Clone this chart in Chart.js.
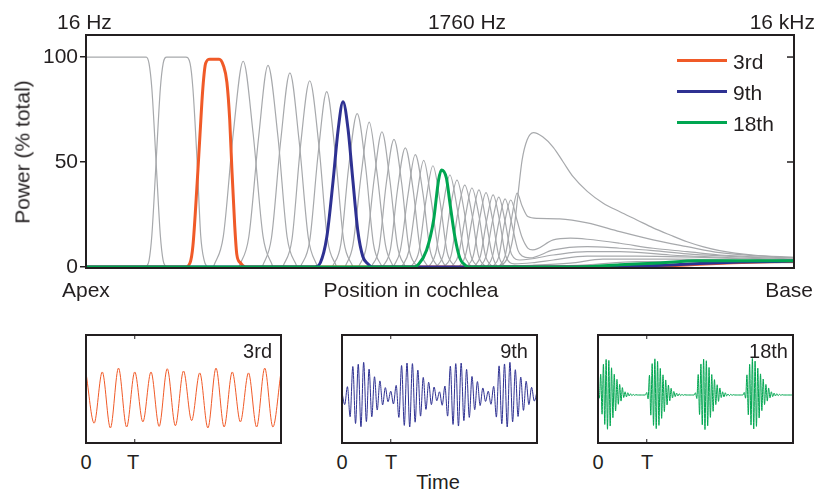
<!DOCTYPE html>
<html>
<head>
<meta charset="utf-8">
<script src="https://cdn.jsdelivr.net/npm/chart.js@4.4.1/dist/chart.umd.min.js"></script>
<style>
  body { margin: 0; background: #fff; width: 816px; height: 497px; position: relative; overflow: hidden;
         font-family: "Liberation Sans", Arial, sans-serif; color: #231f20; }
  canvas, .lbl, .key { position: absolute; }
  .lbl { white-space: nowrap; line-height: 1; }
</style>
</head>
<body>
<canvas id="main" width="816" height="300" style="left:0;top:0"></canvas>
<canvas id="wave3" width="207" height="120" style="left:80px;top:329px"></canvas>
<canvas id="wave9" width="207" height="120" style="left:336px;top:329px"></canvas>
<canvas id="wave18" width="207" height="120" style="left:592px;top:329px"></canvas>
<script>
// position along the cochlea (0 = apex, 100 = base) vs power (% total)
const powerTicks = [0, 50, 100];
const ORANGE = '#f05a28', BLUE = '#2e3192', GREEN = '#00a651', GRAY = '#a7a9ac';

const harmonic3 = [[0,0],[14.0,0],[14.7,2],[15.1,10],[15.7,40],[16.1,63],[16.5,85],[16.9,97],[17.5,99],[18.8,99],
  [19.4,96],[19.9,88],[20.3,70],[20.6,47],[21.0,20],[21.3,6],[21.8,2],[22.5,0],[78.2,0],[79.7,0.3],[82.1,0.5],
  [86.7,1.3],[91.4,2],[95.2,2.4],[100,2.6]];
const harmonic9 = [[0,0],[32.3,0],[33.1,2],[34.0,14],[34.9,41],[35.6,65],[36.3,78.7],[37.0,66],[37.7,41],[38.4,17],
  [39.1,5],[39.8,1.5],[40.4,0],[75.4,0],[79.2,0.5],[82.5,0.9],[86.7,1.6],[92.4,2.3],[100,2.8]];
const harmonic18 = [[0,0],[46.4,0],[46.9,1],[48.1,8],[49.1,22.4],[49.8,41.4],[50.2,46.2],[50.9,42.4],[51.4,30.5],
  [52.1,14.4],[52.8,4.3],[53.5,1],[54.0,0],[69.1,0],[71.6,0.2],[75.4,1.0],[81.1,1.9],[86.3,2.9],[100,3.0]];

// the other harmonics, resolved ones first
const grayResolved = [
  [[0,100],[8.5,100],[8.9,97],[9.3,85],[9.9,50],[10.5,15],[10.9,3],[11.3,0]],
  [[8.5,0],[8.9,3],[9.3,15],[9.9,50],[10.5,85],[10.9,97],[11.4,100],[14.1,100],[14.7,97],[15.1,85],[15.7,50],[16.2,15],[16.7,3],[17.1,0]],
  [[18.0,0],[19.4,14.7],[20.8,63.7],[22.2,98],[23.6,63.7],[25.0,14.7],[26.4,0]],
  [[21.6,0],[23.0,14.4],[24.4,62.4],[25.7,96],[27.1,62.4],[28.4,14.4],[29.8,0]],
  [[24.9,0],[26.2,13.9],[27.5,60.1],[28.8,92.5],[30.1,60.1],[31.4,13.9],[32.7,0]],
  [[27.8,0],[29.1,13.3],[30.3,57.7],[31.6,88.7],[32.9,57.7],[34.1,13.3],[35.4,0]],
  [[30.3,0],[31.6,12.5],[32.8,54.3],[34.0,83.5],[35.2,54.3],[36.4,12.5],[37.7,0]],
  [[34.8,0],[36.0,11.0],[37.1,47.5],[38.3,73],[39.5,47.5],[40.6,11.0],[41.8,0]],
  [[36.6,0],[37.7,10.4],[38.9,44.9],[40.0,69],[41.1,44.9],[42.3,10.4],[43.4,0]],
  [[38.5,0],[39.6,9.7],[40.7,41.9],[41.8,64.4],[42.9,41.9],[44.0,9.7],[45.1,0]],
  [[40.3,0],[41.4,9.1],[42.4,39.5],[43.5,60.8],[44.6,39.5],[45.6,9.1],[46.7,0]],
  [[41.9,0],[43.0,8.5],[44.0,36.9],[45.1,56.7],[46.2,36.9],[47.2,8.5],[48.3,0]],
  [[43.4,0],[44.4,8.0],[45.5,34.8],[46.5,53.5],[47.6,34.8],[48.6,8.0],[49.7,0]],
  [[44.6,0],[45.6,7.6],[46.7,33.0],[47.7,50.8],[48.7,33.0],[49.8,7.6],[50.8,0]],
  [[45.9,0],[47.0,7.2],[48.0,31.3],[49.0,48.2],[50.0,31.3],[51.0,7.2],[52.1,0]],
  [[48.4,0],[49.4,6.6],[50.4,28.5],[51.4,43.8],[52.4,28.5],[53.4,6.6],[54.4,0]],
  [[49.5,0],[50.5,6.2],[51.4,26.9],[52.4,41.4],[53.4,26.9],[54.3,6.2],[55.3,0]],
  [[50.6,0],[51.6,5.9],[52.5,25.4],[53.5,39],[54.5,25.4],[55.4,5.9],[56.4,0]],
  [[51.6,0],[52.6,5.6],[53.6,24.4],[54.5,37.6],[55.5,24.4],[56.4,5.6],[57.4,0]]
];

// higher harmonics with long tails toward the base
const grayTails = [
  [[52.7,0],[53.6,5.5],[54.6,23.9],[55.5,36.7],[56.4,23.9],[57.4,5.5],[58.3,0],[65,0.3],[70.8,1],[77.8,2.5],[89.5,2.5],[100,2]],
  [[53.7,0],[54.7,5.3],[55.6,23.0],[56.5,35.4],[57.4,23.0],[58.3,5.3],[59.3,0.5],[63,0.8],[68.4,1.8],[73.0,3.7],[82.5,3.7],[100,2.5]],
  [[54.8,0],[55.7,5.1],[56.6,22.3],[57.5,34.3],[58.4,22.3],[59.3,5.1],[60.5,1.5],[63,2],[66.0,3.3],[70.8,5.2],[77.8,5.2],[100,3.0]],
  [[55.6,0],[56.5,5.0],[57.4,21.6],[58.3,33.3],[59.2,21.6],[60.1,6],[61.3,3.3],[66.0,5.7],[70.8,7.3],[75.4,7.3],[82.5,5.7],[100,3.3]],
  [[56.6,0],[57.4,4.9],[58.3,21.1],[59.2,32.4],[60.1,21.1],[61.0,8],[61.6,5.2],[62.7,4.3],[66.0,8.1],[70.8,9.7],[75.4,8.9],[80.1,7.8],[84.9,6.2],[100,3.7]],
  [[57.4,0],[58.3,4.8],[59.1,20.7],[60.0,31.9],[60.9,22],[61.6,14],[62.4,9],[63.1,8.1],[66.0,12.9],[68.4,13.7],[70.8,13.2],[75.4,11.3],[80.1,8.9],[84.9,7.3],[89.5,5.7],[100,4.3]],
  [[58.3,0],[59.2,5.3],[60.1,22.9],[60.9,35.2],[61.6,29],[62.4,24],[63.8,23.1],[66.9,22.9],[70.8,21],[75.4,16.8],[80.1,12.9],[84.9,9.7],[89.5,6.8],[100,4.3]],
  [[58.2,0],[59.5,4],[60.3,14],[61.0,34],[61.6,51],[62.3,60.5],[63.2,64],[64.5,62],[66.0,57],[67.4,50],[68.8,43],[70.8,36],
   [73.0,30.5],[75.4,26.3],[77.8,22.4],[80.1,18.6],[82.5,15.2],[84.9,12],[87.1,9.7],[89.5,7.8],[94.2,5.7],[100,4.6]]
];

// filtered waveforms, one sample per half cycle over 4 periods (0..4T)
const wave3 = [0.69,-0.88,0.72,-1.03,0.84,-1.0,0.72,-0.84,0.72,-0.98,0.82,-0.96,0.75,-0.8,0.69,-1.03,0.84,-1.0,
  0.72,-0.84,0.69,-1.0,0.84,-1.0,0.72];
const wave9 = [
  0.08,-0.30,0.26,-0.68,0.89,-0.89,0.96,-0.99,1.02,-0.83,0.81,-0.68,0.57,-0.47,0.44,-0.31,0.23,-0.21,
  0.12,-0.28,0.30,-0.70,0.92,-0.95,1.00,-1.00,0.98,-0.85,0.78,-0.66,0.55,-0.45,0.40,-0.30,0.25,-0.18,
  0.10,-0.32,0.28,-0.66,0.90,-0.92,0.98,-0.97,1.00,-0.80,0.80,-0.70,0.58,-0.46,0.42,-0.33,0.22,-0.20,
  0.12,-0.29,0.27,-0.69,0.91,-0.90,0.97,-1.00,1.02,-0.84,0.79,-0.67,0.56,-0.48,0.43,-0.30,0.24,-0.19,
  0.10];
const wave18 = [
  0.05,-0.10,0.65,-0.60,0.96,-0.92,1.11,-1.07,1.08,-0.97,0.85,-0.71,0.65,-0.50,0.49,-0.29,0.33,-0.19,
  0.23,-0.08,0.10,-0.06,0.07,-0.03,0.04,-0.02,0.02,-0.01,0.01,0,0,0,0,0,0,0,
  0.08,-0.12,0.62,-0.63,0.98,-0.95,1.13,-1.05,1.05,-0.95,0.83,-0.73,0.63,-0.52,0.47,-0.31,0.31,-0.18,
  0.21,-0.09,0.11,-0.05,0.06,-0.03,0.04,-0.02,0.02,-0.01,0.01,0,0,0,0,0,0,0,
  0.07,-0.11,0.64,-0.61,0.97,-0.93,1.12,-1.08,1.07,-0.96,0.86,-0.70,0.64,-0.51,0.48,-0.30,0.32,-0.20,
  0.22,-0.08,0.10,-0.06,0.07,-0.03,0.03,-0.02,0.02,-0.01,0.01,0,0,0,0,0,0,0,
  0.08,-0.10,0.63,-0.62,0.96,-0.94,1.14,-1.06,1.06,-0.98,0.84,-0.72,0.66,-0.49,0.50,-0.30,0.33,-0.19,
  0.22,-0.09,0.10,-0.05,0.06,-0.03,0.04,-0.02,0.02,-0.01,0.01,0,0,0,0,0,0,0,
  0];

const FONT = '"Liberation Sans", Arial, sans-serif';
const INK = '#231f20';

function label(text, x, y, align, size, rotate) {
  const d = document.createElement('div');
  d.className = 'lbl';
  d.textContent = text;
  d.style.left = x + 'px';
  d.style.top = y + 'px';
  d.style.fontSize = (size || 21) + 'px';
  const tx = align === 'left' ? '0' : align === 'right' ? '-100%' : '-50%';
  d.style.transform = 'translate(' + tx + ',-50%)' + (rotate ? ' rotate(' + rotate + 'deg)' : '');
  document.body.appendChild(d);
}

function curve(arr, color, width) {
  return {
    data: arr.map(([x, y]) => ({ x, y })),
    borderColor: color,
    borderWidth: width,
    pointRadius: 0,
    fill: false,
    cubicInterpolationMode: 'monotone'
  };
}

// black box round the plot, with inward ticks on the right side
const mainFrame = {
  id: 'mainFrame',
  afterDatasetsDraw(chart) {
    const { ctx, chartArea: a, scales: { y } } = chart;
    ctx.save();
    ctx.strokeStyle = INK;
    ctx.lineWidth = 2;
    ctx.strokeRect(a.left, a.top, a.right - a.left, a.bottom - a.top);
    ctx.lineWidth = 1.5;
    powerTicks.filter(v => v > 0).forEach(v => {
      const py = y.getPixelForValue(v);
      ctx.beginPath();
      ctx.moveTo(a.right - 7, py);
      ctx.lineTo(a.right, py);
      ctx.stroke();
    });
    ctx.restore();
  }
};

new Chart(document.getElementById('main'), {
  type: 'line',
  data: {
    datasets: [
      curve(harmonic18, GREEN, 3),
      curve(harmonic9, BLUE, 3),
      curve(harmonic3, ORANGE, 3),
      ...grayResolved.map(c => curve(c, GRAY, 1.2)),
      ...grayTails.map(c => curve(c, GRAY, 1.2))
    ]
  },
  options: {
    responsive: false,
    animation: false,
    devicePixelRatio: 1,
    layout: { padding: { top: 35, right: 22, bottom: 32, left: 0 } },
    plugins: { legend: { display: false }, tooltip: { enabled: false } },
    scales: {
      x: { type: 'linear', display: false, min: 0, max: 100 },
      y: {
        min: -0.5,
        max: 110.5,
        afterFit: s => { s.width = 86; },
        afterBuildTicks: s => { s.ticks = powerTicks.map(v => ({ value: v })); },
        ticks: { font: { family: FONT, size: 21 }, color: INK, padding: 2 },
        grid: { drawOnChartArea: false, tickLength: 6, color: INK, lineWidth: 1.5 },
        border: { color: INK, width: 2 }
      }
    }
  },
  plugins: [mainFrame]
});

// small waveform panels
const panelFrame = {
  id: 'panelFrame',
  afterDatasetsDraw(chart) {
    const { ctx, chartArea: a, scales: { x } } = chart;
    const n = chart.data.labels.length;
    const px = x.getPixelForValue((n - 1) / 4);
    ctx.save();
    ctx.strokeStyle = INK;
    ctx.lineWidth = 2;
    ctx.strokeRect(a.left, a.top, a.right - a.left, a.bottom - a.top);
    ctx.lineWidth = 1;
    ctx.beginPath();
    ctx.moveTo(px, a.top); ctx.lineTo(px, a.top + 4);
    ctx.moveTo(px, a.bottom); ctx.lineTo(px, a.bottom - 4);
    ctx.stroke();
    ctx.restore();
  }
};

function panel(id, values, color) {
  new Chart(document.getElementById(id), {
    type: 'line',
    data: {
      labels: values.map((_, i) => i),
      datasets: [{
        data: values,
        borderColor: color,
        borderWidth: 1,
        pointRadius: 0,
        fill: false,
        cubicInterpolationMode: 'monotone'
      }]
    },
    options: {
      responsive: false,
      animation: false,
      devicePixelRatio: 1,
      layout: { padding: 6 },
      plugins: { legend: { display: false }, tooltip: { enabled: false } },
      scales: {
        x: { display: false },
        y: { display: false, min: -1.5, max: 1.875 }
      }
    },
    plugins: [panelFrame]
  });
}

panel('wave3', wave3, ORANGE);
panel('wave9', wave9, BLUE);
panel('wave18', wave18, GREEN);

// legend
[['3rd', ORANGE, 60], ['9th', BLUE, 91], ['18th', GREEN, 122]].forEach(([name, color, y]) => {
  const k = document.createElement('div');
  k.className = 'key';
  k.style.cssText = 'left:677px;width:50px;height:3px;top:' + (y - 1.5) + 'px;background:' + color;
  document.body.appendChild(k);
  label(name, 733, y + 1, 'left', 21);
});

// annotations
label('16 Hz', 57, 21, 'left');
label('1760 Hz', 467, 21, 'center');
label('16 kHz', 815, 21, 'right');
label('Apex', 62, 289, 'left');
label('Position in cochlea', 411, 289, 'center');
label('Base', 813, 289, 'right');
label('Power (% total)', 22, 152, 'center', 21, -90);

label('3rd', 272, 351, 'right', 20);
label('9th', 528, 351, 'right', 20);
label('18th', 788, 351, 'right', 20);
[[86, 133], [342, 391], [598, 647]].forEach(([z, t]) => {
  label('0', z, 462, 'center', 20);
  label('T', t, 462, 'center', 20);
});
label('Time', 438, 482, 'center', 20);
</script>
</body>
</html>
